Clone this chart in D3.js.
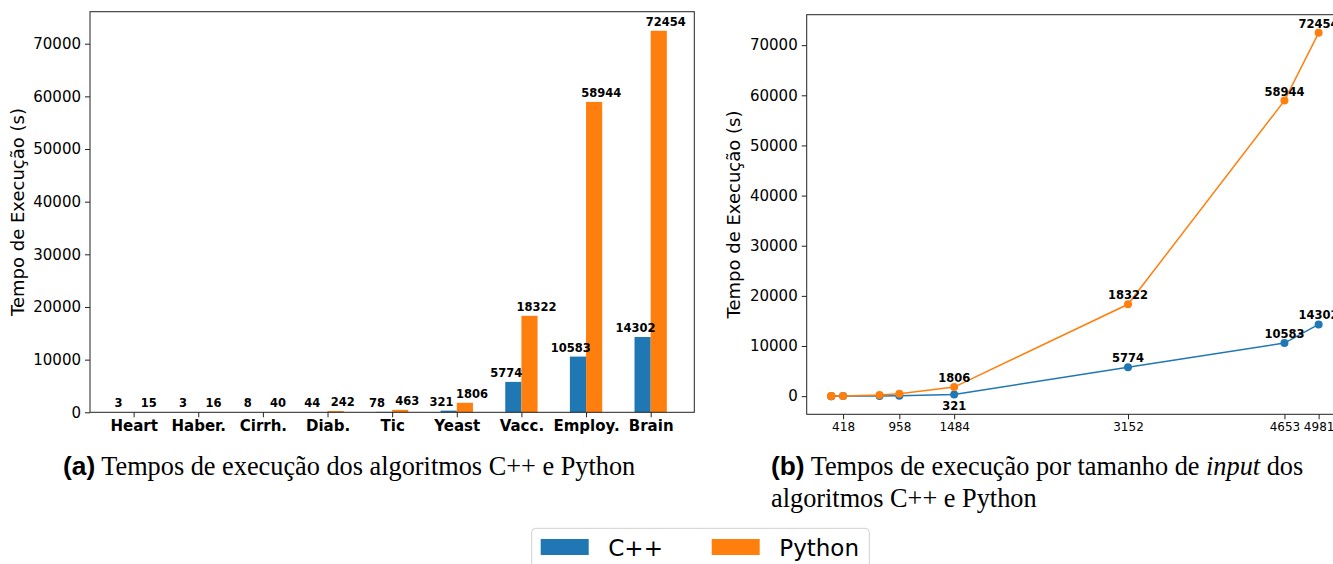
<!DOCTYPE html>
<html>
<head>
<meta charset="utf-8">
<script src="https://cdn.jsdelivr.net/npm/d3@7"></script>
<style>
  body { margin: 0; background: #fff; overflow: hidden; }
  svg { display: block; }
  svg text { font-family: 'DejaVu Sans', sans-serif; fill: #000; }
</style>
</head>
<body>
<div id="chart"></div>
<script>
// data
const categories = ["Heart", "Haber.", "Cirrh.", "Diab.", "Tic", "Yeast", "Vacc.", "Employ.", "Brain"];
const cppTimes = [3, 3, 8, 44, 78, 321, 5774, 10583, 14302];
const pythonTimes = [15, 16, 40, 242, 463, 1806, 18322, 58944, 72454];
const inputSizes = [303, 306, 418, 768, 958, 1484, 3152, 4653, 4981];
const sizeTicks = [418, 958, 1484, 3152, 4653, 4981];
const yTicks = [0, 10000, 20000, 30000, 40000, 50000, 60000, 70000];
const seriesNames = ["C++", "Python"];
const colors = ["#1f77b4", "#ff7f0e"];

const W = 1333, H = 564;
const svg = d3.select("#chart").append("svg")
    .attr("width", W)
    .attr("height", H);

const yTop = 72454 * 1.05;

// ---------- (a) bar chart ----------
let a = { left: 90, right: 694.3, top: 11.7, bottom: 412.3 };
const xa = d3.scaleLinear().domain([-0.675, categories.length - 1 + 0.675]).range([a.left, a.right]);
const ya = d3.scaleLinear().domain([0, yTop]).range([a.bottom, a.top]);

const ga = svg.append("g");

// bars
const barW = 0.25;
ga.selectAll("rect.cpp")
    .data(cppTimes)
    .join("rect")
    .attr("class", "cpp")
    .attr("x", (d, i) => xa(i - barW))
    .attr("y", d => ya(d))
    .attr("width", xa(barW) - xa(0))
    .attr("height", d => ya(0) - ya(d))
    .style("fill", colors[0]);
ga.selectAll("rect.py")
    .data(pythonTimes)
    .join("rect")
    .attr("class", "py")
    .attr("x", (d, i) => xa(i))
    .attr("y", d => ya(d))
    .attr("width", xa(barW) - xa(0))
    .attr("height", d => ya(0) - ya(d))
    .style("fill", colors[1]);

// value labels
ga.selectAll("text.lc")
    .data(cppTimes)
    .join("text")
    .attr("x", (d, i) => xa(i - 0.235))
    .attr("y", d => ya(d) - 5)
    .attr("text-anchor", "middle")
    .style("font-size", "11.5px")
    .style("font-weight", "bold")
    .text(d => d);
ga.selectAll("text.lp")
    .data(pythonTimes)
    .join("text")
    .attr("x", (d, i) => xa(i + 0.235))
    .attr("y", d => ya(d) - 5)
    .attr("text-anchor", "middle")
    .style("font-size", "11.5px")
    .style("font-weight", "bold")
    .text(d => d);

// axes
const yAxisA = ga.append("g")
    .attr("transform", "translate(" + a.left + ",0)")
    .call(d3.axisLeft(ya).tickValues(yTicks).tickSize(5).tickPadding(4).tickFormat(d3.format("d")));
yAxisA.selectAll("text").style("font-size", "15px");

const xAxisA = ga.append("g")
    .attr("transform", "translate(0," + a.bottom + ")")
    .call(d3.axisBottom(xa).tickValues(d3.range(categories.length)).tickSize(5).tickPadding(3).tickFormat(i => categories[i]));
xAxisA.selectAll("text").style("font-size", "15px").style("font-weight", "bold");

[yAxisA, xAxisA].forEach(ax => {
    ax.select(".domain").remove();
    ax.selectAll(".tick line").attr("stroke", "#222");
});

ga.append("rect")
    .attr("x", a.left).attr("y", a.top)
    .attr("width", a.right - a.left).attr("height", a.bottom - a.top)
    .style("fill", "none").style("stroke", "#222").style("stroke-width", 1);

ga.append("text")
    .attr("transform", "translate(24," + (a.top + a.bottom) / 2 + ") rotate(-90)")
    .attr("text-anchor", "middle")
    .style("font-size", "18px")
    .text("Tempo de Execução (s)");

// ---------- (b) line chart ----------
let b = { left: 806.7, right: 1343, top: 14.7, bottom: 414.3 };
const xPad = (d3.max(inputSizes) - d3.min(inputSizes)) * 0.05;
const yPad = (72454 - 3) * 0.05;
const xb = d3.scaleLinear().domain([d3.min(inputSizes) - xPad, d3.max(inputSizes) + xPad]).range([b.left, b.right]);
const yb = d3.scaleLinear().domain([3 - yPad, 72454 + yPad]).range([b.bottom, b.top]);

const gb = svg.append("g");

const yAxisB = gb.append("g")
    .attr("transform", "translate(" + b.left + ",0)")
    .call(d3.axisLeft(yb).tickValues(yTicks).tickSize(5).tickPadding(4).tickFormat(d3.format("d")));
yAxisB.selectAll("text").style("font-size", "15px");

const xAxisB = gb.append("g")
    .attr("transform", "translate(0," + b.bottom + ")")
    .call(d3.axisBottom(xb).tickValues(sizeTicks).tickSize(5).tickPadding(3).tickFormat(d3.format("d")));
xAxisB.selectAll("text").style("font-size", "12px");

[yAxisB, xAxisB].forEach(ax => {
    ax.select(".domain").remove();
    ax.selectAll(".tick line").attr("stroke", "#222");
});

gb.append("rect")
    .attr("x", b.left).attr("y", b.top)
    .attr("width", b.right - b.left).attr("height", b.bottom - b.top)
    .style("fill", "none").style("stroke", "#222").style("stroke-width", 1);

gb.append("text")
    .attr("transform", "translate(740," + (b.top + b.bottom) / 2 + ") rotate(-90)")
    .attr("text-anchor", "middle")
    .style("font-size", "18px")
    .text("Tempo de Execução (s)");

const line = d3.line().x(d => xb(d[0])).y(d => yb(d[1]));
[cppTimes, pythonTimes].forEach((vals, s) => {
    const pts = inputSizes.map((x, i) => [x, vals[i]]);
    gb.append("path")
        .datum(pts)
        .attr("d", line)
        .style("fill", "none")
        .style("stroke", colors[s])
        .style("stroke-width", 1.5);
    gb.selectAll("circle.s" + s)
        .data(pts)
        .join("circle")
        .attr("cx", d => xb(d[0]))
        .attr("cy", d => yb(d[1]))
        .attr("r", 4)
        .style("fill", colors[s]);
    // labels only from Yeast onwards
    gb.selectAll("text.s" + s)
        .data(pts.slice(5))
        .join("text")
        .attr("x", d => xb(d[0]))
        .attr("y", (d, i) => (s === 0 && i === 0) ? yb(d[1]) + 15 : yb(d[1]) - 5)
        .attr("text-anchor", "middle")
        .style("font-size", "11.5px")
        .style("font-weight", "bold")
        .text(d => d[1]);
});

// ---------- captions ----------
const serif = "'Liberation Serif', 'Times New Roman', serif";
const sansB = "'Liberation Sans', Arial, sans-serif";
const capA = svg.append("text")
    .attr("x", 63).attr("y", 475)
    .style("font-size", "26.3px");
capA.append("tspan").style("font-family", sansB).style("font-weight", "bold").text("(a)");
capA.append("tspan").style("font-family", serif).text(" Tempos de execução dos algoritmos C++ e Python");

const capB = svg.append("text")
    .attr("x", 771).attr("y", 475)
    .style("font-size", "26.3px");
capB.append("tspan").style("font-family", sansB).style("font-weight", "bold").text("(b)");
capB.append("tspan").style("font-family", serif).text(" Tempos de execução por tamanho de ");
capB.append("tspan").style("font-family", serif).style("font-style", "italic").text("input");
capB.append("tspan").style("font-family", serif).text(" dos");
svg.append("text")
    .attr("x", 771).attr("y", 507)
    .style("font-size", "26.3px")
    .style("font-family", serif)
    .text("algoritmos C++ e Python");

// ---------- legend ----------
const lg = svg.append("g");
lg.append("rect")
    .attr("x", 531.7).attr("y", 528.3)
    .attr("width", 337.6).attr("height", 50)
    .attr("rx", 4)
    .style("fill", "#fff").style("stroke", "#d0d0d0").style("stroke-width", 1);
const legendX = [540.7, 711.7];
seriesNames.forEach((name, i) => {
    lg.append("rect")
        .attr("x", legendX[i]).attr("y", 539)
        .attr("width", 48).attr("height", 16)
        .style("fill", colors[i]);
    lg.append("text")
        .attr("x", legendX[i] + 67.6).attr("y", 555.5)
        .style("font-size", "23px")
        .text(name);
});
</script>
</body>
</html>
